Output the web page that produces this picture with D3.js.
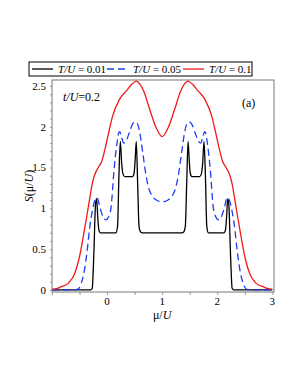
<!DOCTYPE html>
<html>
<head>
<meta charset="utf-8">
<script src="https://cdn.jsdelivr.net/npm/d3@7"></script>
<style>
  body { margin: 0; background: #fff; }
  text { font-family: "Liberation Serif", "Times New Roman", serif; }
</style>
</head>
<body>
<div id="chart"></div>
<script>
// S(mu/U) curves
const muLow = [-1, -0.3, -0.27, -0.24, -0.21, -0.19, -0.17, -0.15, -0.12, 0.16, 0.19, 0.215, 0.24, 0.265, 0.29, 0.32, 0.46, 0.49, 0.51, 0.53, 0.555, 0.58, 0.61, 0.64,
  1.36, 1.39, 1.42, 1.445, 1.47, 1.49, 1.51, 1.54, 1.68, 1.71, 1.735, 1.76, 1.785, 1.81, 1.84, 2.12, 2.15, 2.17, 2.19, 2.21, 2.24, 2.27, 2.3, 3];
const sLow = [0, 0, 0.02, 0.45, 1.05, 1.12, 0.9, 0.74, 0.7, 0.7, 0.78, 1.4, 1.82, 1.55, 1.42, 1.39, 1.39, 1.43, 1.6, 1.82, 1.3, 0.78, 0.71, 0.7,
  0.7, 0.71, 0.78, 1.3, 1.82, 1.6, 1.43, 1.39, 1.39, 1.42, 1.55, 1.82, 1.4, 0.78, 0.7, 0.7, 0.74, 0.9, 1.12, 1.05, 0.45, 0.02, 0, 0];

const muMid = [-1, -0.6, -0.53, -0.47, -0.41, -0.36, -0.32, -0.27, -0.22, -0.18, -0.13, -0.07, -0.02, 0.03, 0.07, 0.13, 0.18, 0.21, 0.23, 0.26, 0.3, 0.34, 0.4, 0.46, 0.51, 0.55, 0.59, 0.65, 0.71, 0.76, 0.82, 0.9, 1.0,
  1.1, 1.18, 1.24, 1.29, 1.35, 1.41, 1.45, 1.49, 1.54, 1.6, 1.66, 1.7, 1.74, 1.77, 1.79, 1.82, 1.87, 1.93, 1.97, 2.02, 2.07, 2.13, 2.18, 2.22, 2.27, 2.32, 2.36, 2.41, 2.47, 2.53, 2.6, 3];
const sMid = [0, 0, 0.01, 0.08, 0.25, 0.49, 0.74, 0.96, 1.1, 1.13, 1.01, 0.89, 0.86, 0.9, 1.0, 1.5, 1.8, 1.92, 1.94, 1.88, 1.8, 1.82, 1.92, 2.03, 2.06, 2.04, 1.94, 1.67, 1.39, 1.24, 1.15, 1.1, 1.08,
  1.1, 1.15, 1.24, 1.39, 1.67, 1.94, 2.04, 2.06, 2.03, 1.92, 1.82, 1.8, 1.88, 1.94, 1.92, 1.8, 1.5, 1.0, 0.9, 0.86, 0.89, 1.01, 1.13, 1.1, 0.96, 0.74, 0.49, 0.25, 0.08, 0.01, 0, 0];

const muHigh = [-1, -0.9, -0.83, -0.75, -0.68, -0.59, -0.5, -0.41, -0.33, -0.27, -0.22, -0.16, -0.1, -0.04, 0.02, 0.1, 0.22, 0.35, 0.45, 0.53, 0.6, 0.67, 0.77, 0.89, 1.0,
  1.11, 1.23, 1.33, 1.4, 1.47, 1.55, 1.65, 1.78, 1.9, 1.98, 2.04, 2.1, 2.16, 2.22, 2.27, 2.33, 2.41, 2.5, 2.59, 2.68, 2.75, 2.83, 2.9, 3];
const sHigh = [0.01, 0.02, 0.04, 0.06, 0.1, 0.2, 0.41, 0.74, 1.06, 1.3, 1.42, 1.5, 1.57, 1.72, 1.9, 2.13, 2.33, 2.44, 2.52, 2.56, 2.52, 2.43, 2.22, 1.99, 1.88,
  1.99, 2.22, 2.43, 2.52, 2.56, 2.52, 2.44, 2.33, 2.13, 1.9, 1.72, 1.57, 1.5, 1.42, 1.3, 1.06, 0.74, 0.41, 0.2, 0.1, 0.06, 0.04, 0.02, 0.01];

const seriesNames = ['0.01', '0.05', '0.1'];
const seriesColors = ['#000000', '#1f3cf0', '#f01a1a'];
const xTicks = [0, 1, 2, 3];
const yTicks = [0, 0.5, 1, 1.5, 2, 2.5];

const series = [
  {name: seriesNames[0], mu: muLow, s: sLow, color: seriesColors[0], dash: null},
  {name: seriesNames[1], mu: muMid, s: sMid, color: seriesColors[1], dash: '7,4'},
  {name: seriesNames[2], mu: muHigh, s: sHigh, color: seriesColors[2], dash: null}
];

const W = 298, H = 385;
const plot = {left: 52, right: 274, top: 80, bottom: 292};

const svg = d3.select('#chart').append('svg')
  .attr('width', W)
  .attr('height', H);

const x = d3.scaleLinear().domain([-1, 3.03]).range([plot.left, plot.right]);
const y = d3.scaleLinear().domain([-0.025, 2.573]).range([plot.bottom, plot.top]);

// clip curves to the frame
svg.append('clipPath').attr('id', 'clip')
  .append('rect')
  .attr('x', plot.left).attr('y', plot.top)
  .attr('width', plot.right - plot.left).attr('height', plot.bottom - plot.top);

// minor ticks (outside, grey)
const xAxis = d3.axisBottom(x).tickValues(d3.range(-1, 3.01, 0.5)).tickSize(3).tickFormat('');
svg.append('g')
  .attr('transform', 'translate(0,' + plot.bottom + ')')
  .call(xAxis)
  .call(g => g.select('.domain').remove())
  .call(g => g.selectAll('line').attr('stroke', '#999'));

const yAxis = d3.axisLeft(y).tickValues(d3.range(0, 2.51, 0.1)).tickSize(2).tickFormat('');
svg.append('g')
  .attr('transform', 'translate(' + plot.left + ',0)')
  .call(yAxis)
  .call(g => g.select('.domain').remove())
  .call(g => g.selectAll('line').attr('stroke', '#999'));

// tick labels
svg.append('g').selectAll('text')
  .data(xTicks)
  .join('text')
  .attr('x', d => x(d))
  .attr('y', 305)
  .attr('text-anchor', 'middle')
  .attr('font-size', 11)
  .text(d => d);

svg.append('g').selectAll('text')
  .data(yTicks)
  .join('text')
  .attr('x', 46)
  .attr('y', d => y(d))
  .attr('dy', '0.35em')
  .attr('text-anchor', 'end')
  .attr('font-size', 11)
  .text(d => d);

// curves
const line = d3.line()
  .x(d => x(d[0]))
  .y(d => y(d[1]))
  .curve(d3.curveMonotoneX);

const curves = svg.append('g').attr('clip-path', 'url(#clip)');
series.forEach(sr => {
  curves.append('path')
    .datum(d3.zip(sr.mu, sr.s))
    .attr('fill', 'none')
    .attr('stroke', sr.color)
    .attr('stroke-width', 1.3)
    .attr('stroke-dasharray', sr.dash)
    .attr('d', line);
});

// frame
svg.append('rect')
  .attr('x', plot.left).attr('y', plot.top)
  .attr('width', plot.right - plot.left).attr('height', plot.bottom - plot.top)
  .attr('fill', 'none')
  .attr('stroke', '#777')
  .attr('stroke-width', 1);

// axis titles
const yTitle = svg.append('text')
  .attr('transform', 'translate(33,186) rotate(-90)')
  .attr('text-anchor', 'middle')
  .attr('font-size', 12);
yTitle.append('tspan').attr('font-style', 'italic').text('S');
yTitle.append('tspan').text('(μ/');
yTitle.append('tspan').attr('font-style', 'italic').text('U');
yTitle.append('tspan').text(')');

const xTitle = svg.append('text')
  .attr('x', x(1))
  .attr('y', 319)
  .attr('text-anchor', 'middle')
  .attr('font-size', 12);
xTitle.append('tspan').text('μ/');
xTitle.append('tspan').attr('font-style', 'italic').text('U');

// annotations
const tLabel = svg.append('text').attr('x', 63).attr('y', 101).attr('font-size', 12);
tLabel.append('tspan').attr('font-style', 'italic').text('t/U');
tLabel.append('tspan').text('=0.2');

svg.append('text').attr('x', 242).attr('y', 107).attr('font-size', 12).text('(a)');

// legend
const legend = svg.append('g');
legend.append('rect')
  .attr('x', 29).attr('y', 62).attr('width', 223).attr('height', 14)
  .attr('fill', '#fff').attr('stroke', '#000').attr('stroke-width', 1);

const legendX = [32, 107, 183];
series.forEach((sr, i) => {
  const lx = legendX[i];
  legend.append('line')
    .attr('x1', lx).attr('x2', lx + 21)
    .attr('y1', 69).attr('y2', 69)
    .attr('stroke', sr.color)
    .attr('stroke-width', 1.3)
    .attr('stroke-dasharray', sr.dash);
  const t = legend.append('text')
    .attr('x', lx + 26).attr('y', 73)
    .attr('font-size', 11);
  t.append('tspan').attr('font-style', 'italic').text('T/U');
  t.append('tspan').text(' = ' + sr.name);
});
</script>
</body>
</html>
